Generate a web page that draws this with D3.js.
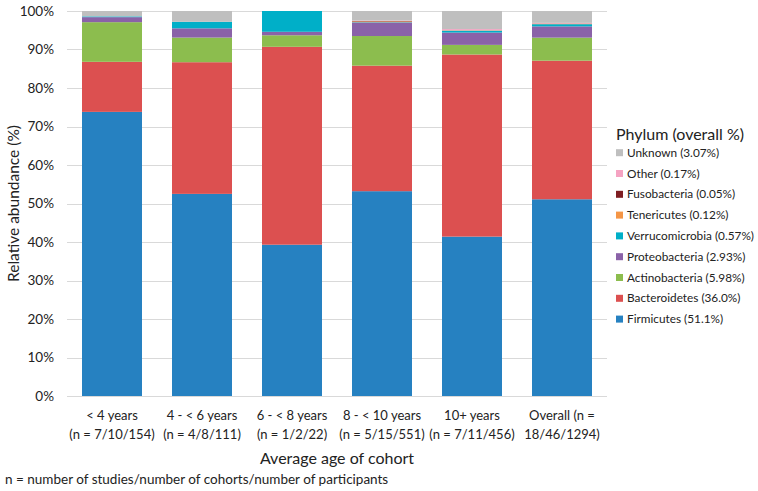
<!DOCTYPE html>
<html>
<head>
    <meta charset="utf-8">
    <title>Relative abundance by age</title>
    <style type="text/css">
        body{ margin: 0; background: #fff; }
        svg{ display: block; font-family: Lato, 'Open Sans', sans-serif; }
        .grid line{ stroke: #d9d9d9; stroke-width: 1px; }
        .tick-label{ font-size: 13.5px; fill: #222; }
        .x-label{ font-size: 13px; fill: #222; }
    </style>
</head>
<body>
<div id="chart"></div>

<script src="https://d3js.org/d3.v7.min.js"></script>
<script>

// x categories (two lines each)
var ageLine1 = ["< 4 years", "4 - < 6 years", "6 - < 8 years", "8 - < 10 years", "10+ years", "Overall (n ="];
var ageLine2 = ["(n = 7/10/154)", "(n = 4/8/111)", "(n = 1/2/22)", "(n = 5/15/551)", "(n = 7/11/456)", "18/46/1294)"];

// stacking order, bottom to top
var phyla = ["Firmicutes", "Bacteroidetes", "Actinobacteria", "Proteobacteria", "Verrucomicrobia",
             "Tenericutes", "Fusobacteria", "Other", "Unknown"];
var overallPct = ["51.1%", "36.0%", "5.98%", "2.93%", "0.57%", "0.12%", "0.05%", "0.17%", "3.07%"];

// values (%) per phylum, one per age group
var firmicutes      = [73.8, 52.5, 39.3, 53.2, 41.4, 51.1];
var bacteroidetes   = [13.0, 34.2, 51.4, 32.6, 47.3, 36.0];
var actinobacteria  = [10.3,  6.4,  3.0,  7.7,  2.5, 5.98];
var proteobacteria  = [ 1.3,  2.4,  0.9,  3.5,  3.2, 2.93];
var verrucomicrobia = [ 0.2,  1.7,  5.4,  0.1,  0.5, 0.57];
var tenericutes     = [ 0.0,  0.0,  0.0,  0.2,  0.1, 0.12];
var fusobacteria    = [ 0.0,  0.0,  0.0,  0.1,  0.0, 0.05];
var other           = [ 0.0,  0.0,  0.0,  0.1,  0.3, 0.17];
var unknown         = [ 1.4,  2.8,  0.0,  2.5,  4.7, 3.07];

var yTicks = [0, 10, 20, 30, 40, 50, 60, 70, 80, 90, 100];

var series = [firmicutes, bacteroidetes, actinobacteria, proteobacteria, verrucomicrobia,
              tenericutes, fusobacteria, other, unknown];

var colors = ["#2681c1", "#dc5050", "#8cbd4e", "#8a62a8", "#00afc8",
              "#f59646", "#7e1e22", "#f5a3c2", "#bfbfbf"];

var W = 758, H = 491;
var margin = {top: 11, left: 67, right: 151, bottom: 95};
var width  = W - margin.left - margin.right,
    height = H - margin.top - margin.bottom;

// build rows for d3.stack
var rows = ageLine1.map(function(a, i){
    var r = {key: i};
    phyla.forEach(function(p, j){ r[p] = series[j][i]; });
    return r;
});

var stacked = d3.stack().keys(phyla)(rows);

var x = d3.scaleBand()
    .domain(d3.range(ageLine1.length))
    .range([0, width])
    .paddingInner(1/3)
    .paddingOuter(1/6);

var y = d3.scaleLinear()
    .domain([0, 100])
    .range([height, 0]);

var color = d3.scaleOrdinal().domain(phyla).range(colors);

var svg = d3.select("#chart").append("svg")
    .attr("width", W)
    .attr("height", H);

var g = svg.append("g")
    .attr("transform", "translate(" + margin.left + "," + margin.top + ")");

//gridlines
g.append("g").attr("class", "grid")
    .selectAll("line")
    .data(yTicks)
    .enter().append("line")
    .attr("x1", 0).attr("x2", width)
    .attr("y1", function(d){ return Math.round(y(d)) + 0.5; })
    .attr("y2", function(d){ return Math.round(y(d)) + 0.5; });

//y tick labels
g.append("g")
    .selectAll("text")
    .data(yTicks)
    .enter().append("text")
    .attr("class", "tick-label")
    .attr("x", -13)
    .attr("y", function(d){ return y(d); })
    .attr("dy", "0.35em")
    .attr("text-anchor", "end")
    .text(function(d){ return d + "%"; });

//stacked bars
g.append("g")
    .selectAll("g")
    .data(stacked)
    .enter().append("g")
    .attr("fill", function(d){ return color(d.key); })
    .selectAll("rect")
    .data(function(d){ return d; })
    .enter().append("rect")
    .attr("x", function(d, i){ return x(i); })
    .attr("width", x.bandwidth())
    .attr("y", function(d){ return y(d[1]); })
    .attr("height", function(d){ return Math.max(0, y(d[0]) - y(d[1])); });

//x labels
var xl = g.append("g")
    .selectAll("text")
    .data(ageLine1)
    .enter().append("text")
    .attr("class", "x-label")
    .attr("text-anchor", "middle")
    .attr("transform", function(d, i){
        return "translate(" + (x(i) + x.bandwidth()/2) + "," + (height + 24) + ")";
    });
xl.append("tspan").attr("x", 0).attr("y", 0).text(function(d){ return d; });
xl.append("tspan").attr("x", 0).attr("y", 19).text(function(d, i){ return ageLine2[i]; });

//axis titles
svg.append("text")
    .attr("x", margin.left + width/2)
    .attr("y", 464)
    .attr("text-anchor", "middle")
    .style("font-size", "16px")
    .style("fill", "#222")
    .text("Average age of cohort");

svg.append("text")
    .attr("transform", "translate(19," + (margin.top + height/2) + ") rotate(-90)")
    .attr("text-anchor", "middle")
    .style("font-size", "15.5px")
    .style("fill", "#222")
    .text("Relative abundance (%)");

svg.append("text")
    .attr("x", 5)
    .attr("y", 484)
    .style("font-size", "13.5px")
    .style("fill", "#222")
    .text("n = number of studies/number of cohorts/number of participants");

//legend
var legend = svg.append("g").attr("transform", "translate(616,0)");

legend.append("text")
    .attr("x", 0)
    .attr("y", 140)
    .style("font-size", "16px")
    .style("fill", "#222")
    .text("Phylum (overall %)");

var item = legend.selectAll("g.item")
    .data(phyla.slice().reverse())
    .enter().append("g")
    .attr("class", "item")
    .attr("transform", function(d, i){ return "translate(0," + (152.7 + i * 20.8) + ")"; });

item.append("rect")
    .attr("x", 0).attr("y", -3.5)
    .attr("width", 7).attr("height", 7)
    .attr("fill", function(d){ return color(d); });

item.append("text")
    .attr("x", 11)
    .attr("dy", "0.35em")
    .style("font-size", "11.8px")
    .style("fill", "#222")
    .text(function(d){ return d + " (" + overallPct[phyla.indexOf(d)] + ")"; });

</script>
</body>
</html>
